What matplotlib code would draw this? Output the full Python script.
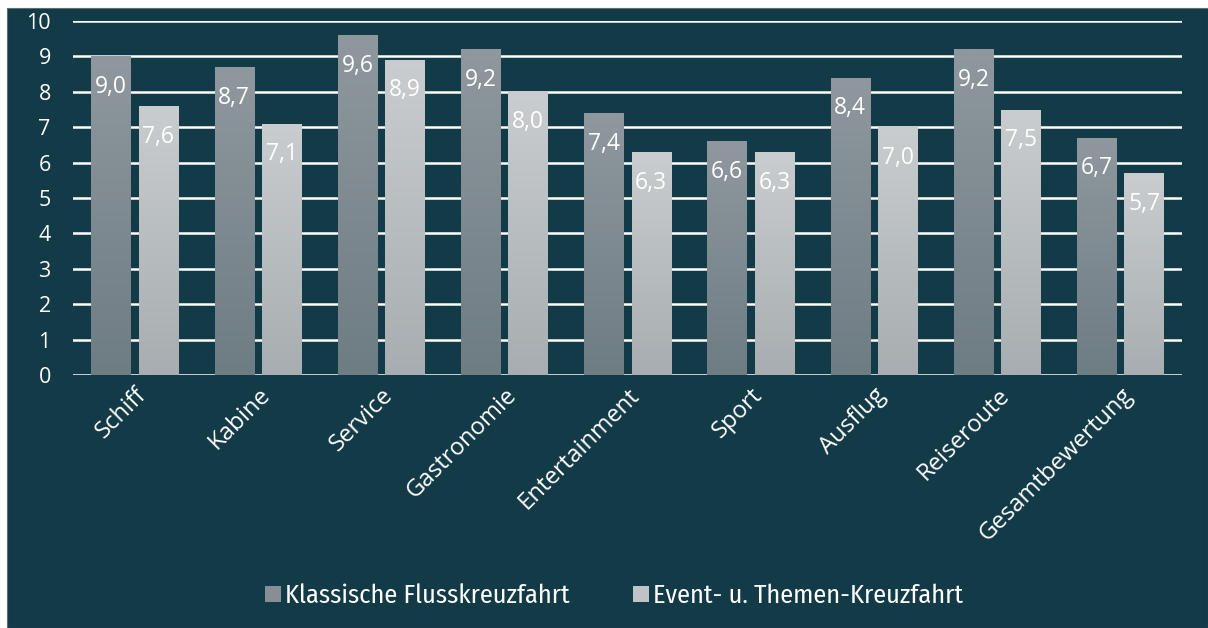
import numpy as np
import matplotlib.pyplot as plt
from matplotlib.patches import Rectangle
from matplotlib.colors import LinearSegmentedColormap

kategorien = ['Schiff', 'Kabine', 'Service', 'Gastronomie', 'Entertainment',
              'Sport', 'Ausflug', 'Reiseroute', 'Gesamtbewertung']
klassisch = [9.0, 8.7, 9.6, 9.2, 7.4, 6.6, 8.4, 9.2, 6.7]
event = [7.6, 7.1, 8.9, 8.0, 6.3, 6.3, 7.0, 7.5, 5.7]
serien = ['Klassische Flusskreuzfahrt', 'Event- u. Themen-Kreuzfahrt']

bg = '#133a47'
plt.rcParams['font.family'] = ['Open Sans', 'DejaVu Sans']

fig = plt.figure(figsize=(12.08, 6.28), dpi=100)
fig.patch.set_facecolor('white')
fig.patches.append(Rectangle((7 / 1208, 0), 1 - 7 / 1208, 1 - 8 / 628,
                             transform=fig.transFigure, facecolor=bg,
                             edgecolor='#5a7078', linewidth=0.8, zorder=-1))

ax = fig.add_axes([73 / 1208, 1 - 375 / 628, (1182 - 73) / 1208, (375 - 21) / 628])
ax.set_facecolor(bg)

cmaps = [LinearSegmentedColormap.from_list('k', ['#6e7c84', '#8f989e']),
         LinearSegmentedColormap.from_list('e', ['#a7adb0', '#c9cdd0'])]

x = np.arange(len(kategorien))
w = 0.318
offs = [-w / 2 - 0.033, w / 2 + 0.033]
grad = np.linspace(0, 1, 256).reshape(-1, 1)

for werte, off, cm, name in zip([klassisch, event], offs, cmaps, serien):
    bars = ax.bar(x + off, werte, width=w, color=cm(0.5), zorder=2, label=name)
    for b, v in zip(bars, werte):
        x0 = b.get_x()
        im = ax.imshow(grad, extent=[x0, x0 + w, 0, v], origin='lower',
                       cmap=cm, aspect='auto', zorder=2.5)
        im.set_clip_path(b)
        ax.annotate(f'{v:.1f}'.replace('.', ','), (x0 + w / 2, v),
                    xytext=(0, -22), textcoords='offset points',
                    ha='center', va='center', color='white', fontsize=16.5,
                    zorder=4)

ax.set_xlim(-0.5, len(kategorien) - 0.5)
ax.set_ylim(0, 10)
ax.set_yticks(range(0, 11))
ax.yaxis.grid(True, color='white', linewidth=1.8, zorder=1)
ax.set_axisbelow(True)
for s in ax.spines.values():
    s.set_visible(False)
ax.tick_params(axis='both', length=0, colors='white', labelsize=15.5)
ax.tick_params(axis='y', pad=16)
ax.set_xticks(x)
ax.set_xticklabels(kategorien, rotation=45, ha='right', rotation_mode='anchor',
                   fontsize=17.2)
ax.tick_params(axis='x', pad=6)

# keep the image extents from resetting limits
ax.set_xlim(-0.5, len(kategorien) - 0.5)
ax.set_ylim(0, 10)

handles = [Rectangle((0, 0), 1, 1, facecolor=c) for c in ['#858f95', '#bfc3c6']]
leg = fig.legend(handles, serien, loc='center', bbox_to_anchor=(614 / 1208, 1 - 596 / 628),
                 ncol=2, frameon=False, handlelength=0.6, handleheight=0.6,
                 handletextpad=0.15, columnspacing=2.4,
                 prop={'family': ['Fira Sans Condensed', 'Roboto Condensed', 'Open Sans'], 'size': 19})
for t in leg.get_texts():
    t.set_color('white')

fig.savefig('out.png', dpi=100, facecolor=fig.get_facecolor())
